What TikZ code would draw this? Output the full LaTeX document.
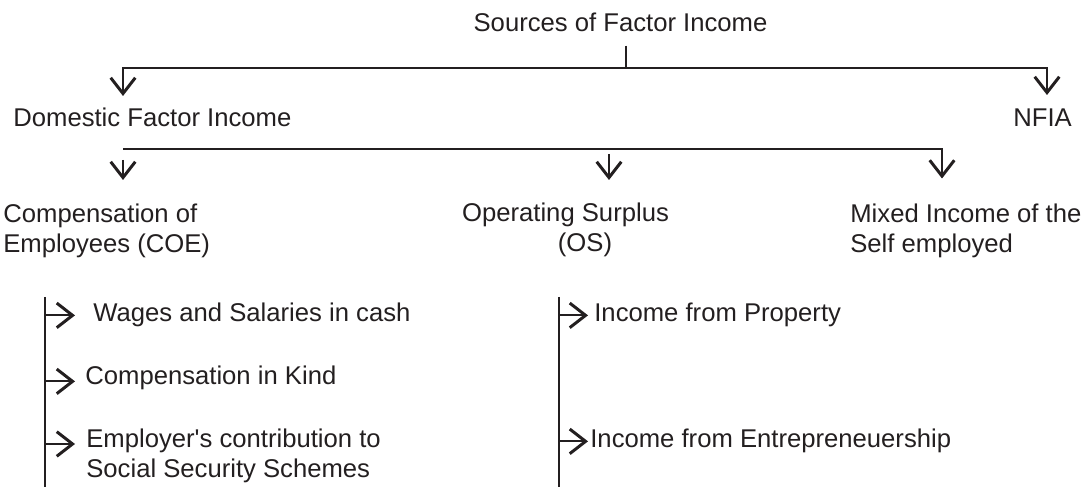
\documentclass[tikz,border=0pt]{standalone}
\usepackage{fontspec}
\setmainfont{Liberation Sans}
\usepackage{xcolor}
\usetikzlibrary{arrows.meta}
\definecolor{ink}{RGB}{35,31,32}
\tikzset{
  entry/.style={anchor=base west, inner sep=0pt, text=ink, align=left,
    font=\fontsize{14.6}{17.1}\selectfont},
  branch/.style={draw=ink, line width=1.1pt},
  pointer/.style={branch, -{Straight Barb[length=9pt,width=14pt,line width=1.7pt]}}
}

\begin{document}
\begin{tikzpicture}
    \useasboundingbox (0,0) rectangle (21.62,-9.74);

    %% Top level:
    \node[entry, anchor=base] (src) at (12.41,-0.64) {Sources of Factor Income};
    \node[entry] (dfi) at (0.26,-2.54) {Domestic Factor Income};
    \node[entry] (nfia) at (20.26,-2.54) {NFIA};
    \coordinate (topbar) at (12.52,-1.36);
    \coordinate (dfitip) at (2.46,-1.92);
    \coordinate (nfiatip) at (20.94,-1.90);
    \draw[branch] (topbar |- src.south) ++(0,-0.26) -- (topbar);
    \draw[pointer] (topbar) -| (dfitip);
    \draw[pointer] (topbar) -| (nfiatip);

    %% Parts of domestic factor income (base = last line):
    \node[entry] (coe) at (0.06,-5.06) {Compensation of\\Employees (COE)};
    \node[entry, anchor=base, align=center] (os) at (11.31,-5.04) {Operating Surplus\\\hspace*{0.78cm}(OS)};
    \node[entry] (mix) at (17.0,-5.06) {Mixed Income of the\\Self employed};
    \coordinate (lowbar) at (2.46,-2.98);
    \coordinate (coetip) at (2.46,-3.6);
    \coordinate (ostip) at (12.18,-3.6);
    \coordinate (mixtip) at (18.84,-3.57);
    \draw[pointer] (lowbar) -| (mixtip);
    \draw[pointer] (lowbar) ++(0,-0.22) -- (coetip);
    \draw[pointer] (lowbar -| ostip) ++(0,-0.1) -- (ostip);

    %% Items of COE:
    \coordinate (coetop) at (0.9,-5.94);
    \coordinate (coebot) at (0.9,-9.74);
    \node[entry] (wages) at (1.86,-6.44) {Wages and Salaries in cash};
    \node[entry] (kind) at (1.70,-7.70) {Compensation in Kind};
    \node[entry] (employer) at (1.72,-9.56) {Employer\textquotesingle s contribution to\\Social Security Schemes};
    \draw[branch] (coetop) -- (coebot);
    \draw[pointer] (coetop |- wages.west) -- ++(0.6,0);
    \draw[pointer] (coetop |- kind.west) ++(0,-0.06) -- ++(0.6,0);
    \draw[pointer] (coetop |- employer.base west) ++(0,0.68) -- ++(0.6,0);

    %% Items of OS:
    \coordinate (ostop) at (11.18,-5.94);
    \coordinate (osbot) at (11.18,-9.74);
    \node[entry] (property) at (11.88,-6.44) {Income from Property};
    \node[entry] (enterprise) at (11.80,-8.96) {Income from Entrepreneuership};
    \draw[branch] (ostop) -- (osbot);
    \draw[pointer] (ostop |- property.west) -- ++(0.58,0);
    \draw[pointer] (ostop |- enterprise.west) -- ++(0.58,0);

\end{tikzpicture}
\end{document}
